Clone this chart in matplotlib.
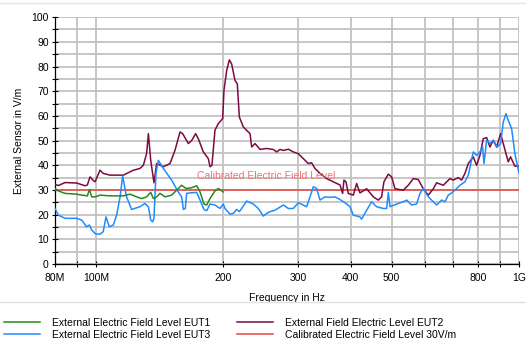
import numpy as np
import matplotlib
matplotlib.use("Agg")
import matplotlib.pyplot as plt
from matplotlib.lines import Line2D

plt.rcParams['font.family'] = ['Liberation Sans', 'DejaVu Sans']

# frequencies in MHz, levels in V/m
f_eut1 = [80, 81.5, 84.5, 90, 92.5, 95.4, 96.5, 97.7, 99.5, 102.2, 107.9, 116, 120.3,
          124.8, 128.2, 131.7, 134.7, 136.7, 139.1, 141.7, 145.6, 150.9, 155.1, 159.4,
          163.2, 168.3, 173, 176.2, 180, 182.7, 186, 191.1, 194.6, 200]
v_eut1 = [30.6, 29.6, 28.6, 28.3, 27.9, 27.6, 30.2, 27.2, 27.2, 27.9, 27.6, 27.6, 28.3,
          27.2, 26.5, 27.2, 29.0, 26.5, 27.2, 28.6, 27.2, 27.9, 29.9, 31.9,
          30.6, 30.9, 31.7, 29.2, 24.3, 23.9, 26.5, 29.6, 30.6, 29.2]

f_eut2 = [80, 81.5, 84.5, 90, 94.2, 95.4, 96.8, 98.3, 99.5, 102.2, 104, 107.9, 116,
          122.6, 127, 129.4, 131.7, 133, 134.7, 137.1, 139.1, 144.3, 149.6, 153.7, 158,
          160.3, 165.3, 168.3, 172, 174.5, 179.4, 184.3, 186, 188, 191.1, 194.6, 199.3,
          200.7, 203.7, 206.7, 209.3, 213.1, 215.8, 218.2, 223, 231.3, 233.4, 237.7,
          244.2, 253, 262.6, 267.4, 272.3, 277.3, 284.9, 292.7, 300.8, 309.1, 317.6,
          323.4, 329.4, 338.5, 351, 364, 377.5, 382.9, 385.7, 389.9, 394.9, 405.8,
          413.3, 420.8, 436.4, 452.5, 465, 473.4, 479.5, 491, 500, 509.2, 532.8,
          547.4, 562.6, 578.1, 594, 610.5, 627.4, 638.9, 662.3, 686.9, 699.4, 718.7,
          731.9, 745.3, 759, 779.8, 794.2, 808.6, 823.5, 838.6, 853.9, 869.5, 885.5,
          904.9, 918.1, 943.4, 955.5, 978.2, 1000]
v_eut2 = [32.2, 31.8, 33.0, 32.8, 31.7, 32.0, 35.3, 34.0, 33.3, 38.0, 36.7, 36.0, 36.0,
          38.0, 38.7, 40.0, 44.7, 52.8, 42.0, 32.9, 40.7, 39.4, 40.7, 46.0, 53.5,
          52.8, 48.8, 50.0, 52.8, 50.8, 45.4, 42.7, 39.4, 40.0, 54.2, 56.9, 58.9,
          70.4, 78.4, 82.7, 81.0, 74.4, 73.0, 59.6, 55.5, 52.8, 47.4, 48.8,
          46.4, 46.8, 46.4, 45.4, 46.4, 46.0, 46.5, 45.4, 44.7, 42.7, 40.7,
          41.0, 38.7, 36.7, 34.6, 33.3, 32.0, 28.6, 34.0, 33.3, 28.6, 27.9,
          32.6, 28.8, 30.5, 27.2, 25.9, 27.2, 33.3, 36.4, 35.3, 30.5, 29.9,
          31.9, 34.6, 34.2, 30.5, 27.9, 30.5, 32.9, 31.9, 34.6, 34.0, 35.0,
          34.0, 36.7, 40.7, 43.4, 40.0, 44.0, 50.8, 51.2, 47.4, 50.1, 47.4,
          52.8, 48.8, 41.4, 43.4, 39.6, 39.8]

f_eut3 = [80, 81.5, 84.5, 90, 92.5, 95, 96.5, 97.7, 100, 102.2, 104, 105.6, 107.5,
          109.9, 111.9, 114, 115.6, 118.1, 121.4, 127, 130.5, 133, 134.7, 136.1, 137.1,
          138.6, 140.4, 144.3, 150.9, 156.5, 159.4, 160.9, 162.6, 163.8, 166.8, 173,
          176.2, 180, 182.7, 186, 191.1, 196.4, 200, 201.8, 207.4, 211.2, 215.1, 218.2,
          221, 227, 235.4, 242, 248.6, 253.2, 257.8, 265, 277.3, 284.9, 292.7, 300.8,
          309.1, 314.8, 320.6, 326.4, 332.4, 338.5, 347.8, 357.4, 367.2, 377.5, 387.9,
          398.6, 405.8, 420.8, 424.7, 436.4, 448.5, 460.8, 477.8, 486.6, 491, 495.5,
          513.8, 532.8, 542.5, 557.4, 572.9, 583.4, 594, 610.5, 627.4, 638.9, 656.4,
          668.5, 680.6, 693.1, 705.8, 725.4, 745.3, 759, 779.8, 794.2, 808.6, 820.5,
          826.6, 838.6, 853.9, 869.5, 888.7, 904.9, 918.1, 931.6, 943.4, 960.8, 978.2, 1000]
v_eut3 = [22.5, 19.8, 18.5, 18.5, 17.8, 15.1, 15.8, 13.7, 12.1, 12.1, 13.1, 19.1, 15.1,
          15.8, 19.8, 27.2, 35.6, 27.2, 22.1, 23.2, 24.5, 23.2, 17.8, 17.1, 18.5,
          36.7, 42.0, 38.7, 34.0, 29.2, 27.2, 22.1, 22.5, 28.6, 28.8, 29.0,
          25.9, 22.1, 21.6, 24.3, 23.9, 22.5, 24.3, 22.5, 20.2, 20.5, 22.1, 21.2,
          22.5, 25.5, 24.3, 22.5, 19.4, 20.5, 21.2, 21.8, 23.9, 22.5, 22.5, 24.8,
          23.9, 23.2, 27.2, 31.3, 30.6, 25.9, 27.2, 27.0, 27.2, 26.1, 24.8,
          23.2, 19.8, 19.1, 18.2, 21.8, 25.2, 23.2, 22.5, 22.5, 29.0, 23.2,
          24.3, 25.2, 25.9, 23.9, 24.3, 28.6, 30.6, 27.2, 25.2, 23.9, 25.9,
          25.2, 27.9, 28.8, 29.9, 31.9, 33.3, 36.0, 45.4, 44.0, 45.4, 47.4,
          40.7, 50.1, 48.8, 50.1, 47.4, 48.8, 57.5, 60.9, 58.2, 54.9, 44.7, 36.9]

f_cal = [80, 1000]
v_cal = [30, 30]

x_ticks = [80, 90, 100, 200, 300, 400, 500, 600, 700, 800, 900, 1000]
x_labels = ["80M", "", "100M", "200", "300", "400", "500", "", "", "800", "", "1G"]

c_eut1 = "#238a1c"
c_eut2 = "#7d0a40"
c_eut3 = "#1e8cff"
c_cal = "#e8473e"
fs = 7.5

fig = plt.figure(figsize=(5.26, 3.43), dpi=100)
ax = fig.add_axes([0.1046, 0.2303, 0.882, 0.7197])

ax.set_xscale("log")
ax.set_xlim(80, 1000)
ax.set_ylim(0, 100)

ax.plot(f_cal, v_cal, color=c_cal, lw=1.1, zorder=3)
ax.plot(f_eut2, v_eut2, color=c_eut2, lw=1.1, zorder=4)
ax.plot(f_eut3, v_eut3, color=c_eut3, lw=1.1, zorder=5)
ax.plot(f_eut1, v_eut1, color=c_eut1, lw=1.1, zorder=6)

ax.text(253, 35.6, "Calibrated Electric Field Level", color="#f07070", fontsize=fs,
        ha="center", va="center", zorder=7)

ax.set_xticks(x_ticks)
ax.set_xticklabels(x_labels)
ax.xaxis.set_minor_locator(matplotlib.ticker.NullLocator())
ax.set_yticks(np.arange(0, 101, 10))
ax.set_yticks(np.arange(0, 101, 5), minor=True)
ax.tick_params(axis="both", which="both", direction="inout", length=5, width=0.8,
               labelsize=fs, pad=2)
ax.tick_params(axis="x", pad=4)

ax.grid(True, which="both", color="#c2c2c2", lw=1.3, zorder=0)
ax.set_axisbelow(True)
for s in ["top", "right"]:
    ax.spines[s].set_visible(False)
ax.spines["left"].set_linewidth(0.9)
ax.spines["bottom"].set_linewidth(0.9)

ax.set_xlabel("Frequency in Hz", fontsize=fs, labelpad=7)
ax.set_ylabel("External Sensor in V/m", fontsize=fs, labelpad=5)

# separator lines
fig.add_artist(Line2D([0, 1], [1 - 3 / 343, 1 - 3 / 343], color="#e6e6e6", lw=1))
fig.add_artist(Line2D([0, 1], [1 - 302 / 343, 1 - 302 / 343], color="#e0e0e0", lw=1))

handles = [Line2D([], [], color=c_eut1, lw=1.1),
           Line2D([], [], color=c_eut3, lw=1.1),
           Line2D([], [], color=c_eut2, lw=1.1),
           Line2D([], [], color=c_cal, lw=1.1)]
labels = ["External Electric Field Level EUT1",
          "External Electric Field Level EUT3",
          "External Field Electric Level EUT2",
          "Calibrated Electric Field Level 30V/m"]
fig.legend(handles, labels, loc="upper left", bbox_to_anchor=(4 / 526, 1 - 318 / 343),
           ncol=2, frameon=False, fontsize=fs, handlelength=3.45, handletextpad=1.2,
           columnspacing=2.5, labelspacing=0.2, borderpad=0, borderaxespad=0)

fig.savefig("out.png", dpi=100)
